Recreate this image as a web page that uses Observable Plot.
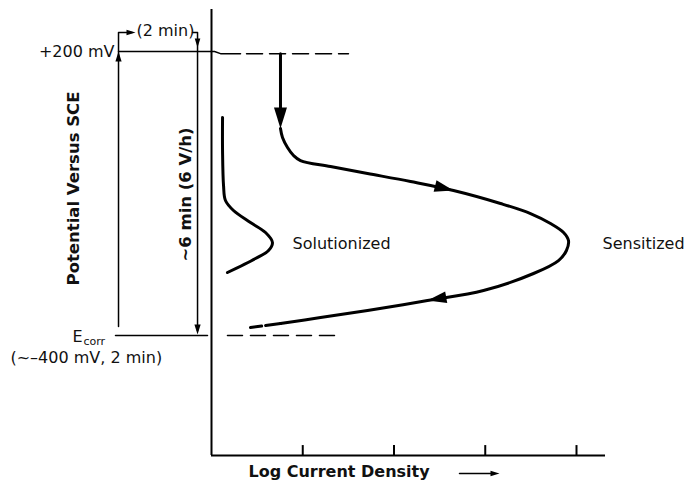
<!DOCTYPE html>
<html><head><meta charset="utf-8">
<script src="https://cdn.jsdelivr.net/npm/d3@7"></script>
<script src="https://cdn.jsdelivr.net/npm/@observablehq/plot@0.6"></script>
<style>body{margin:0;background:#fff}</style>
</head><body><div id="chart"></div>
<script>
// Log current density (arbitrary decades) and potential (mV vs SCE)
const sensitizedX  = [0.756, 0.778, 0.833, 0.899, 0.975, 1.304, 1.710, 2.181, 2.652, 3.167, 3.496, 3.715, 3.858, 3.912, 3.890, 3.803, 3.529, 2.981, 2.367, 1.710, 1.195, 0.756];
const sensitizedMV = [37.3, 18.3, -2.8, -19.7, -30.3, -43.0, -57.7, -74.7, -93.7, -121.1, -142.3, -163.4, -182.4, -199.3, -220.4, -241.6, -269.0, -304.9, -326.1, -347.2, -362.0, -374.7];
const sensitizedTailX  = [0.756, 0.427];
const sensitizedTailMV = [-374.7, -383.1];
const solutionizedX  = [0.121, 0.121, 0.132, 0.153, 0.241, 0.427, 0.592, 0.668, 0.625, 0.482, 0.175];
const solutionizedMV = [60.6, -9.2, -83.1, -114.8, -135.9, -161.3, -182.4, -203.5, -220.4, -237.3, -266.9];
const tickValues = [1, 2, 3, 4];
const upperPotential = 200;   // +200 mV
const ecorrPotential = -400;  // ~-400 mV

const zip = (xs, ys) => xs.map((x, i) => ({x, y: ys[i]}));
const sensitized = zip(sensitizedX, sensitizedMV);
const sensitizedTail = zip(sensitizedTailX, sensitizedTailMV);
const solutionized = zip(solutionizedX, solutionizedMV);

const font = "DejaVu Sans";
const yAxisPos = -653.5, yTop = 288.7, xEnd = 4.318;

const arrowHead = {draw(ctx, size) {
  const r = Math.sqrt(size / Math.PI), w = 0.31 * r;
  ctx.moveTo(0, 0); ctx.lineTo(w, r); ctx.lineTo(-w, r); ctx.closePath();
}};

const arrows = [
  {x: 2.652, y: -93.7, r: 19, rot: 104},
  {x: 2.367, y: -326.1, r: 19, rot: 260},
  {x: 0.756, y: 37.3, r: 21, rot: 180},
  {x: -1.019, y: upperPotential, r: 10, rot: 0},
  {x: -0.833, y: 240.1, r: 9, rot: 90},
  {x: -0.153, y: 208.5, r: 9, rot: 180},
  {x: -0.153, y: -397.9, r: 10, rot: 180},
  {x: 3.156, y: -691.6, r: 9, rot: 90}
];

const textsEnd = [
  {x: -1.063, y: upperPotential, t: "+200 mV", s: 16}
];
const textsStart = [
  {x: -0.822, y: 244, t: "(2 min)", s: 16},
  {x: -1.523, y: -402, t: "E", s: 16},
  {x: -1.403, y: -412.7, t: "corr", s: 11},
  {x: -2.203, y: -446.5, t: "(~\u2013400 mV, 2 min)", s: 16},
  {x: 0.888, y: -205.6, t: "Solutionized", s: 16},
  {x: 4.285, y: -205.6, t: "Sensitized", s: 16}
];
const textsBold = [
  {x: 0.405, y: -687.3, t: "Log Current Density"}
];
const textsBoldRotated = [
  {x: -0.285, y: -102, t: "~6 min (6 V/h)"},
  {x: -1.512, y: -89.4, t: "Potential Versus SCE"}
];

const chart = Plot.plot({
  width: 684, height: 480,
  marginTop: 0, marginRight: 0, marginBottom: 0, marginLeft: 0,
  x: {domain: [-211 / 91.25, 473 / 91.25], range: [0, 684], axis: null},
  y: {domain: [-706.3, 307.75], range: [480, 0], axis: null},
  r: {type: "identity"},
  style: {background: "white", fontFamily: font},
  marks: [
    // axes
    Plot.ruleX([0], {y1: yAxisPos, y2: yTop, strokeWidth: 2}),
    Plot.ruleY([yAxisPos], {x1: 0, x2: xEnd, strokeWidth: 2}),
    Plot.ruleX(tickValues, {y1: yAxisPos, y2: yAxisPos + 21, strokeWidth: 2}),
    // +200 mV level
    Plot.line([{x: -1.019, y: upperPotential}, {x: 0.033, y: upperPotential}, {x: 0.099, y: 195.5}, {x: 0.318, y: 195.5}], {x: "x", y: "y", strokeWidth: 1.5}),
    Plot.line([{x: 0.384, y: 195.5}, {x: 1.501, y: 195.5}], {x: "x", y: "y", strokeWidth: 1.5, strokeDasharray: "16,7"}),
    // Ecorr level
    Plot.line([{x: -1.052, y: ecorrPotential}, {x: -0.044, y: ecorrPotential}], {x: "x", y: "y", strokeWidth: 1.5}),
    Plot.line([{x: 0.175, y: ecorrPotential}, {x: 1.414, y: ecorrPotential}], {x: "x", y: "y", strokeWidth: 1.5, strokeDasharray: "15,8"}),
    // time schematic
    Plot.line([{x: -1.019, y: -381}, {x: -1.019, y: 240.1}, {x: -0.87, y: 240.1}], {x: "x", y: "y", strokeWidth: 1.5}),
    Plot.line([{x: -0.208, y: 240.1}, {x: -0.153, y: 240.1}, {x: -0.153, y: -390}], {x: "x", y: "y", strokeWidth: 1.5}),
    // thick down arrow shaft
    Plot.line([{x: 0.756, y: 195.5}, {x: 0.756, y: 70}], {x: "x", y: "y", strokeWidth: 3}),
    // curves
    Plot.line(sensitized, {x: "x", y: "y", curve: "catmull-rom", strokeWidth: 3}),
    Plot.line(sensitizedTail, {x: "x", y: "y", strokeWidth: 3, strokeDasharray: "15,4"}),
    Plot.line(solutionized, {x: "x", y: "y", curve: "catmull-rom", strokeWidth: 3}),
    // x label arrow
    Plot.line([{x: 2.718, y: -691.6}, {x: 3.06, y: -691.6}], {x: "x", y: "y", strokeWidth: 1.5}),
    Plot.dot(arrows, {x: "x", y: "y", r: "r", rotate: "rot", symbol: arrowHead, fill: "black", stroke: "none"}),
    Plot.text(textsEnd, {x: "x", y: "y", text: "t", textAnchor: "end", fontSize: "s", lineAnchor: "middle", fill: "#111", fontFamily: font}),
    Plot.text(textsStart, {x: "x", y: "y", text: "t", textAnchor: "start", fontSize: "s", lineAnchor: "middle", fill: "#111", fontFamily: font}),
    Plot.text(textsBold, {x: "x", y: "y", text: "t", textAnchor: "start", fontSize: 16, fontWeight: "bold", lineAnchor: "middle", fill: "#111", fontFamily: font}),
    Plot.text(textsBoldRotated, {x: "x", y: "y", text: "t", textAnchor: "middle", rotate: -90, fontSize: 16.5, fontWeight: "bold", lineAnchor: "middle", fill: "#111", fontFamily: font})
  ]
});
document.getElementById("chart").appendChild(chart);
</script>
</body></html>
